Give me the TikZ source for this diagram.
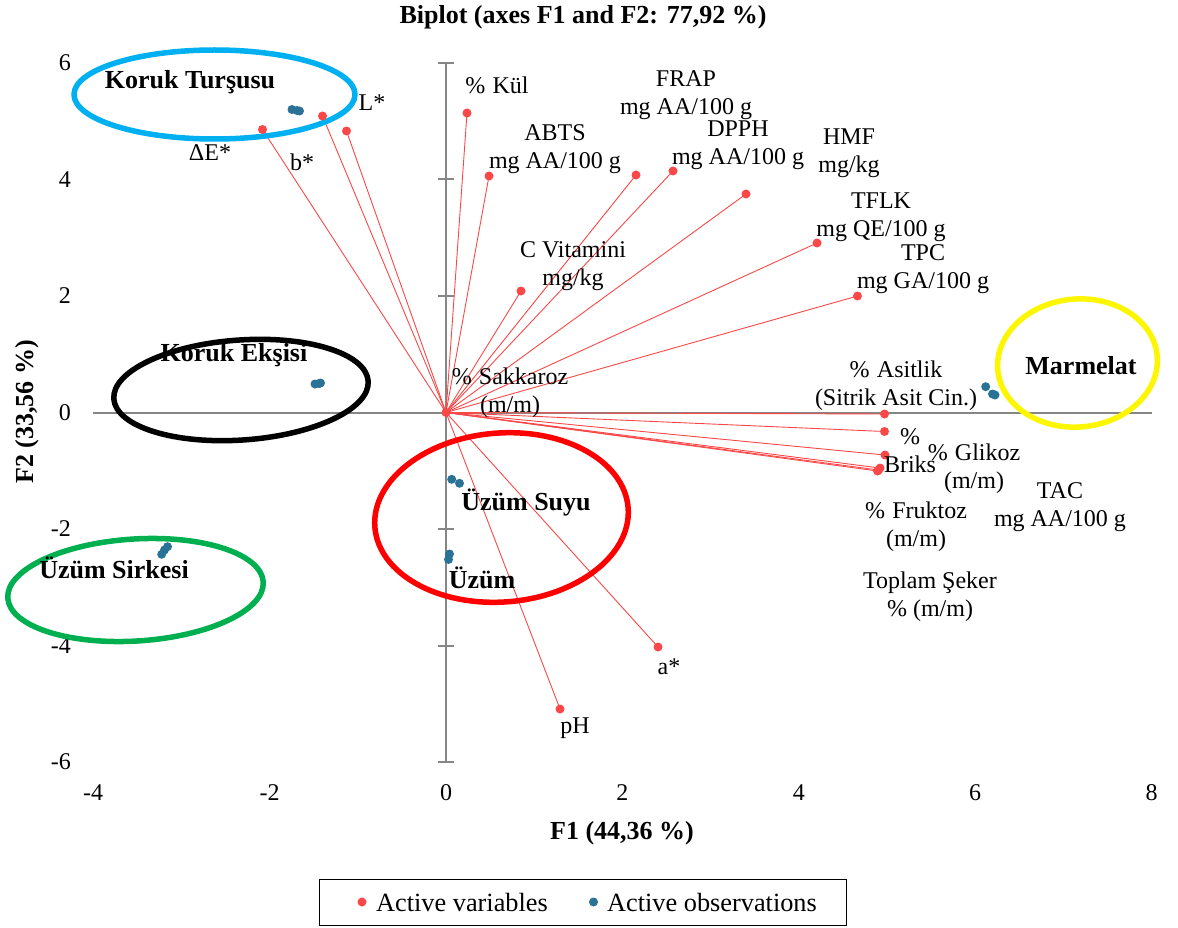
\documentclass[tikz,border=0pt]{standalone}
\usepackage{fontspec}
\setmainfont{Liberation Serif}
\definecolor{vred}{RGB}{250,72,72}
\definecolor{obsblue}{RGB}{42,114,150}
\definecolor{axgray}{RGB}{134,134,134}
\definecolor{elblue}{RGB}{0,176,240}
\definecolor{elgreen}{RGB}{0,176,80}
\definecolor{elred}{RGB}{255,0,0}
\definecolor{elyellow}{RGB}{252,246,0}
\newcommand{\pc}{\%\hspace{0.3em}}
\tikzset{
  ax/.style={draw=axgray, line width=2pt},
  vline/.style={draw=vred, line width=0.9pt},
  rdot/.style={circle, fill=vred, inner sep=0pt, minimum size=9pt},
  bdot/.style={circle, fill=obsblue, inner sep=0pt, minimum size=9pt},
  lab/.style={font=\fontsize{24}{28}\selectfont, align=center, inner sep=0pt},
  leglab/.style={font=\fontsize{26.3}{28}\selectfont, inner sep=0pt},
  grp/.style={font=\bfseries\fontsize{26}{30}\selectfont, inner sep=0pt},
  ticklab/.style={font=\fontsize{24}{28}\selectfont, inner sep=0pt},
  ell/.style={line width=5.5pt},
}
\begin{document}
\begin{tikzpicture}[x=1pt,y=-1pt]
\useasboundingbox (0,0) rectangle (1178,928);

% title and axis titles
\node[grp] (title) at (583,17) {Biplot (axes F1 and F2: 77,92 \%)};
\node[grp] (f1) at (622,833) {F1 (44,36 \%)};
\node[grp, rotate=90] (f2) at (27,412) {F2 (33,56 \%)};

% axes
\draw[ax] (93,412.5) -- (1152,412.5);
\draw[ax] (446,63) -- (446,762);
\foreach \yy in {63,179.5,296,529,645.5,762} \draw[ax] (438,\yy) -- (454,\yy);

% tick labels
\foreach \v/\yy in {6/63,4/179.5,2/296,0/412.5,-2/529,-4/645.5,-6/762}
  \node[ticklab, anchor=east] (yt\v) at (71,\yy) {\v};
\foreach \u in {-4,-2,0,2,4,6,8}
  \node[ticklab] (xt\u) at ({446+88.2*\u},793) {\u};

% origin and variable end points
\coordinate (O) at (446,412.5);
\coordinate (kul) at (467,113);
\coordinate (abts) at (489,176);
\coordinate (frap) at (636,175);
\coordinate (dpph) at (673,171);
\coordinate (hmf) at (746,194);
\coordinate (tflk) at (817,243);
\coordinate (tpc) at (857.5,296);
\coordinate (cvit) at (521,291);
\coordinate (asit) at (884.5,414);
\coordinate (briks) at (884.5,431.5);
\coordinate (glik) at (885,455);
\coordinate (tac) at (880,468);
\coordinate (fruk) at (878.5,470);
\coordinate (tops) at (877.5,471);
\coordinate (dE) at (262.5,129.5);
\coordinate (bst) at (322.5,116);
\coordinate (Lst) at (346.5,131);
\coordinate (ast) at (658,647);
\coordinate (ph) at (560,709);

\foreach \p in {kul,abts,frap,dpph,hmf,tflk,tpc,cvit,asit,briks,glik,tac,fruk,tops,dE,bst,Lst,ast,ph}
  \draw[vline] (O) -- (\p);

% group ellipses
\draw[ell, draw=elblue] (214.5,94.5) ellipse [x radius=140.5, y radius=44.5];
\draw[ell, draw=black, rotate around={4:(241,390)}] (241,390) ellipse [x radius=127.5, y radius=50];
\draw[ell, draw=elgreen, rotate around={3.6:(135.5,590)}] (135.5,590) ellipse [x radius=128, y radius=51];
\draw[ell, draw=elred, rotate around={4.3:(501.5,517.5)}] (501.5,517.5) ellipse [x radius=127, y radius=84.5];
\draw[ell, draw=elyellow, rotate around={5:(1077.5,363)}] (1077.5,363) ellipse [x radius=80, y radius=64];

% variable dots
\foreach \p in {kul,abts,frap,dpph,hmf,tflk,tpc,cvit,asit,briks,glik,tac,fruk,tops,dE,bst,Lst,ast,ph,O}
  \node[rdot] at (\p) {};

% observation dots
\foreach \x/\y [count=\i] in {292/109.5,297/110.5,299.5/111,315/384,319/383.5,320.5/383,161.7/554.3,164.5/550,167.5/546.7,451.7/479.3,459.5/483.3,449.5/554,448.5/559.5,985.7/386.7,992.5/394,995/395}
  \node[bdot] (obs\i) at (\x,\y) {};

% variable labels
\node[lab] (lkul) at (497,85) {\pc Kül};
\node[lab] (lfrap) at (686,95) {FRAP\\mg AA/100 g};
\node[lab] (labts) at (555,149.5) {ABTS\\mg AA/100 g};
\node[lab] (ldpph) at (738,145) {DPPH\\mg AA/100 g};
\node[lab] (lhmf) at (849,153.5) {HMF\\mg/kg};
\node[lab] (ltflk) at (881,217.5) {TFLK\\mg QE/100 g};
\node[lab] (ltpc) at (923,269) {TPC\\mg GA/100 g};
\node[lab] (lcvit) at (573,266) {C Vitamini\\mg/kg};
\node[lab] (lsak) at (510,393) {\pc Sakkaroz\\(m/m)};
\node[lab] (lasit) at (896,386) {\pc Asitlik\\(Sitrik Asit Cin.)};
\node[lab] (lbriks) at (910,451) {\%\\Briks};
\node[lab] (lglik) at (974,468.5) {\pc Glikoz\\(m/m)};
\node[lab] (ltac) at (1060,507) {TAC\\mg AA/100 g};
\node[lab] (lfruk) at (916,527) {\pc Fruktoz\\(m/m)};
\node[lab] (ltops) at (930,597) {Toplam Şeker\\\% (m/m)};
\node[lab] (lL) at (372,103) {L*};
\node[lab] (ldE) at (210,153) {ΔE*};
\node[lab] (lb) at (302,162) {b*};
\node[lab] (la) at (669,667) {a*};
\node[lab] (lph) at (575,728) {pH};

% group labels
\node[grp] (gkt) at (190,82) {Koruk Turşusu};
\node[grp] (gke) at (234,355) {Koruk Ekşisi};
\node[grp] (gus) at (114,568) {Üzüm Sirkesi};
\node[grp] (gsu) at (526,502) {Üzüm Suyu};
\node[grp] (guz) at (482,578) {Üzüm};
\node[grp] (gmar) at (1081,366) {Marmelat};

% legend
\draw[line width=1pt] (319,879) rectangle (846,925);
\node[rdot] (legr) at (362,902) {};
\node[leglab, anchor=west] (legrt) at (376,902) {Active variables};
\node[bdot] (legb) at (593.5,902) {};
\node[leglab, anchor=west] (legbt) at (607,902) {Active observations};
\end{tikzpicture}
\end{document}
